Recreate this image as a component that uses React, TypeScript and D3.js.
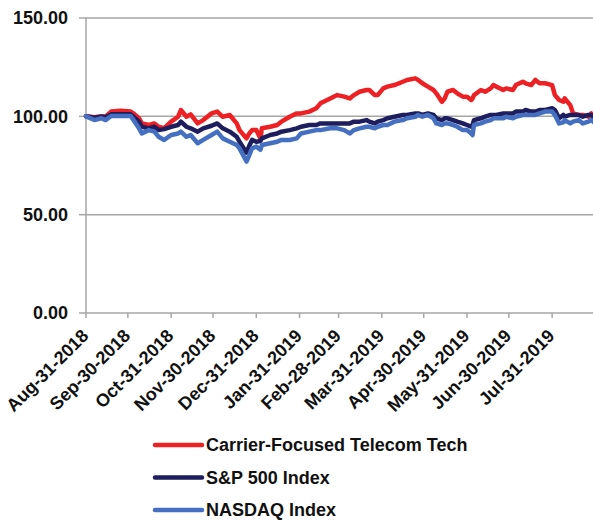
import React from 'react';
import * as d3 from 'd3';

const DATES = [
  '2018-08-31', '2018-09-06', '2018-09-11', '2018-09-14', '2018-09-18', '2018-09-25', '2018-10-02', '2018-10-04',
  '2018-10-08', '2018-10-10', '2018-10-15', '2018-10-19', '2018-10-22', '2018-10-26', '2018-10-31', '2018-11-05',
  '2018-11-07', '2018-11-11', '2018-11-14', '2018-11-19', '2018-11-23', '2018-11-29', '2018-12-03', '2018-12-07',
  '2018-12-12', '2018-12-17', '2018-12-19', '2018-12-24', '2018-12-26', '2018-12-28', '2018-12-31', '2019-01-03',
  '2019-01-04', '2019-01-10', '2019-01-15', '2019-01-18', '2019-01-24', '2019-01-29', '2019-02-01', '2019-02-07',
  '2019-02-12', '2019-02-15', '2019-02-22', '2019-02-27', '2019-03-04', '2019-03-08', '2019-03-11', '2019-03-15',
  '2019-03-20', '2019-03-22', '2019-03-26', '2019-03-28', '2019-04-01', '2019-04-04', '2019-04-09', '2019-04-15',
  '2019-04-18', '2019-04-24', '2019-04-26', '2019-04-29', '2019-05-03', '2019-05-07', '2019-05-09', '2019-05-13',
  '2019-05-15', '2019-05-17', '2019-05-21', '2019-05-24', '2019-05-28', '2019-05-31', '2019-06-03', '2019-06-04',
  '2019-06-05', '2019-06-10', '2019-06-13', '2019-06-17', '2019-06-19', '2019-06-21', '2019-06-26', '2019-06-28',
  '2019-07-03', '2019-07-05', '2019-07-10', '2019-07-12', '2019-07-16', '2019-07-19', '2019-07-22', '2019-07-26',
  '2019-07-31', '2019-08-02', '2019-08-05', '2019-08-08', '2019-08-09', '2019-08-13', '2019-08-15', '2019-08-19',
  '2019-08-22', '2019-08-26', '2019-08-28', '2019-08-30',
];

const CARRIER = [
  100.0, 99.5, 100.0, 99.8, 102.4, 102.8, 102.4, 101.5,
  99.0, 96.4, 95.6, 96.4, 94.7, 94.0, 97.3, 99.8,
  103.2, 99.8, 101.0, 96.4, 98.1, 101.5, 102.4, 99.8,
  100.7, 96.4, 93.0, 88.8, 91.3, 93.0, 93.0, 88.8,
  93.9, 94.7, 95.6, 97.3, 99.8, 101.5, 101.5, 102.4,
  104.1, 106.6, 109.1, 110.8, 110.0, 109.1, 110.8, 112.5,
  113.4, 113.4, 110.8, 110.8, 114.2, 115.1, 115.9, 117.6,
  118.5, 119.3, 118.5, 116.8, 115.1, 113.4, 111.7, 107.4,
  109.1, 112.5, 113.4, 111.7, 110.0, 110.0, 108.3, 109.1,
  110.8, 113.4, 112.5, 114.2, 115.9, 115.1, 113.4, 114.2,
  113.4, 115.9, 117.6, 116.8, 115.9, 118.5, 116.8, 116.8,
  115.9, 110.8, 108.3, 107.4, 109.1, 105.7, 101.5, 100.7,
  100.7, 99.8, 101.5, 100.0,
];

const SP500 = [
  100.0, 99.3, 99.8, 99.5, 101.0, 101.0, 101.0, 99.8,
  97.3, 94.7, 93.9, 94.7, 93.0, 93.5, 94.7, 95.6,
  97.3, 94.7, 93.9, 92.2, 93.9, 95.2, 96.4, 93.9,
  92.2, 89.6, 87.1, 81.5, 85.0, 88.0, 87.1, 87.5,
  88.8, 90.5, 91.3, 92.2, 93.0, 93.9, 94.7, 95.6,
  95.6, 96.4, 96.4, 96.4, 96.4, 96.4, 97.3, 97.3,
  98.1, 97.3, 96.4, 97.3, 98.1, 99.0, 99.8, 100.7,
  100.7, 101.5, 101.5, 100.7, 101.5, 100.7, 99.0, 98.1,
  99.0, 99.0, 98.1, 97.3, 96.4, 95.6, 94.7, 95.6,
  98.1, 99.0, 99.8, 100.7, 100.7, 100.7, 101.5, 101.5,
  101.5, 102.4, 102.4, 103.2, 102.4, 102.4, 103.2, 103.2,
  104.1, 103.2, 99.0, 100.7, 99.8, 100.7, 100.7, 100.7,
  99.8, 100.7, 100.7, 99.5,
];

const NASDAQ = [
  100.0, 98.1, 99.0, 98.1, 100.2, 100.2, 100.2, 98.1,
  93.9, 91.3, 93.0, 92.2, 89.6, 88.0, 90.5, 91.3,
  92.2, 89.6, 90.5, 86.3, 88.0, 90.5, 92.2, 88.8,
  87.1, 85.4, 83.7, 77.0, 80.3, 83.7, 84.6, 83.0,
  85.4, 86.3, 87.1, 88.0, 88.0, 88.8, 91.3, 92.2,
  93.0, 93.0, 93.9, 93.9, 93.0, 91.3, 93.0, 93.9,
  94.7, 94.7, 93.9, 94.7, 95.6, 95.6, 97.3, 98.1,
  99.0, 99.8, 100.7, 99.8, 100.7, 99.0, 96.4, 95.6,
  96.4, 96.4, 95.6, 94.7, 93.0, 93.0, 91.3, 90.5,
  95.6, 96.4, 97.3, 98.1, 99.0, 99.0, 99.0, 99.8,
  99.0, 99.8, 100.7, 100.7, 100.7, 100.7, 101.5, 102.4,
  102.4, 100.7, 96.4, 97.0, 98.1, 96.4, 97.3, 98.1,
  96.4, 97.3, 98.1, 97.0,
];

const SERIES_NAMES = ['Carrier-Focused Telecom Tech', 'S&P 500 Index', 'NASDAQ Index'];
const SERIES_COLORS = ['#ed2024', '#1e1e5e', '#4570c2'];

const X_TICKS = [
  '2018-08-31', '2018-09-30', '2018-10-31', '2018-11-30', '2018-12-31', '2019-01-31',
  '2019-02-28', '2019-03-31', '2019-04-30', '2019-05-31', '2019-06-30', '2019-07-31',
];
const X_TICK_LABELS = [
  'Aug-31-2018', 'Sep-30-2018', 'Oct-31-2018', 'Nov-30-2018', 'Dec-31-2018', 'Jan-31-2019',
  'Feb-28-2019', 'Mar-31-2019', 'Apr-30-2019', 'May-31-2019', 'Jun-30-2019', 'Jul-31-2019',
];
const Y_TICKS = [0, 50, 100, 150];

const W = 593, H = 522;
const plot = { left: 86, top: 18, bottom: 313, right: 593 };
const FONT = '"Liberation Sans", Arial, Helvetica, sans-serif';
const GRID = '#a6a6a6';

const parse = d3.timeParse('%Y-%m-%d');

export default function App() {
  const x = d3.scaleTime()
    .domain([parse('2018-08-31')!, parse('2019-08-30')!])
    .range([plot.left, 594]);
  const y = d3.scaleLinear().domain([0, 150]).range([plot.bottom, plot.top]);

  const dates = DATES.map(d => parse(d)!);
  const seriesValues = [CARRIER, SP500, NASDAQ];

  const line = d3.line<number>()
    .x((_, i) => x(dates[i]))
    .y(v => y(v));

  return (
    <div style={{ position: 'fixed', left: 0, top: 0 }}>
      <svg width={W} height={H} viewBox={`0 0 ${W} ${H}`} style={{ display: 'block', background: '#fff' }}>
        {/* Grid */}
        {Y_TICKS.map(t => (
          <g key={t}>
            <line x1={plot.left} x2={plot.right} y1={y(t)} y2={y(t)} stroke={GRID} strokeWidth={1.5} />
            <line x1={plot.left - 7} x2={plot.left} y1={y(t)} y2={y(t)} stroke={GRID} strokeWidth={1.5} />
            <text x={68} y={y(t)} dy="0.36em" textAnchor="end"
              style={{ fontFamily: FONT, fontWeight: 700, fontSize: 18, fill: '#111' }}>
              {t.toFixed(2)}
            </text>
          </g>
        ))}
        <line x1={plot.left} x2={plot.left} y1={plot.top} y2={plot.bottom} stroke={GRID} strokeWidth={1.5} />

        {/* X ticks */}
        {X_TICKS.map((d, i) => {
          const px = x(parse(d)!);
          return (
            <g key={d}>
              <line x1={px} x2={px} y1={plot.bottom} y2={plot.bottom + 5} stroke={GRID} strokeWidth={1.5} />
              <text transform={`translate(${px + 3.5},${plot.bottom + 24}) rotate(-45)`} textAnchor="end"
                style={{ fontFamily: FONT, fontWeight: 700, fontSize: 18, fill: '#111' }}>
                {X_TICK_LABELS[i]}
              </text>
            </g>
          );
        })}

        {/* Lines */}
        {seriesValues.map((vals, i) => (
          <path key={i} d={line(vals) || ''} fill="none" stroke={SERIES_COLORS[i]}
            strokeWidth={4.5} strokeLinejoin="round" strokeLinecap="round" />
        ))}

        {/* Legend */}
        {SERIES_NAMES.map((name, i) => {
          const ly = 445 + i * 32.5;
          return (
            <g key={name}>
              <line x1={155} x2={202} y1={ly} y2={ly} stroke={SERIES_COLORS[i]} strokeWidth={4.5} strokeLinecap="round" />
              <text x={206} y={ly} dy="0.36em"
                style={{ fontFamily: FONT, fontWeight: 700, fontSize: 18, fill: '#111' }}>
                {name}
              </text>
            </g>
          );
        })}
      </svg>
    </div>
  );
}
